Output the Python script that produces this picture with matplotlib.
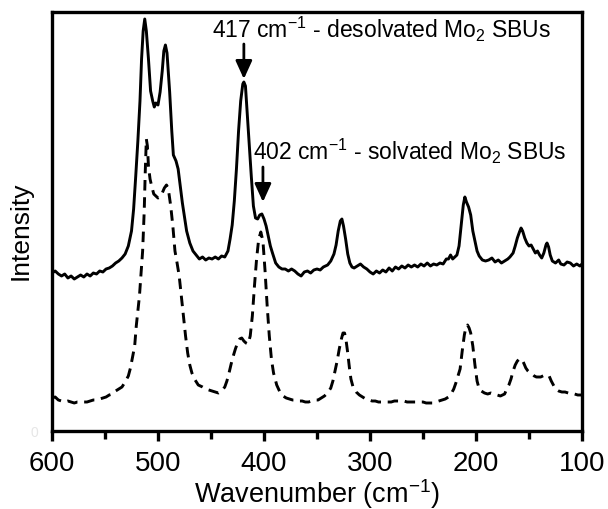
import matplotlib
matplotlib.use("Agg")
import matplotlib.pyplot as plt

plt.rcParams['font.family'] = ['Liberation Sans', 'DejaVu Sans']
plt.rcParams['mathtext.fontset'] = 'custom'
plt.rcParams['mathtext.rm'] = 'Liberation Sans'
plt.rcParams['mathtext.it'] = 'Liberation Sans:italic'
plt.rcParams['mathtext.default'] = 'regular'

# ---- data ----
desolv_wn = [600, 597, 594, 591, 588, 585, 582, 579, 576, 573, 570, 567, 564, 561, 558, 555, 552, 549,
             546, 543, 540, 537, 534, 531, 528, 525, 523, 521, 519, 517, 515.5, 514, 512.5, 511, 509,
             507, 505, 503.5, 502, 500, 498, 496, 494.5, 493, 491.5, 489, 487, 485.5, 483, 481, 479,
             477, 475, 473, 470, 467, 464, 461, 458, 455, 452, 449, 446, 443, 440, 437, 434, 432, 430,
             428, 426, 424, 422, 420, 419, 417.5, 416, 414, 412, 410, 408, 406, 404, 402, 400, 398, 396,
             394, 392, 389, 386, 383, 380, 377, 374, 371, 368, 365, 362, 359, 356, 353, 350, 347, 344,
             340, 337, 334, 332, 330, 328, 326.5, 325, 323, 321, 319, 317, 315, 312, 309, 306, 303, 300,
             297, 294, 291, 288, 285, 282, 279, 276, 273, 270, 267, 264, 261, 258, 255, 252, 249, 246,
             243, 240, 237, 234, 231, 228, 226, 224, 222, 220, 218, 216, 214, 212, 210.5, 209, 207, 205,
             203, 201, 199, 197, 194, 191, 188, 185, 182, 179, 176, 173, 170, 168, 165, 163, 161, 159,
             157.5, 156, 154, 152, 150, 148, 146, 144, 142, 140, 138, 136, 134, 133, 131.5, 130, 128,
             125, 122, 120, 117, 114, 111, 108, 105, 102, 100]
desolv_int = [158, 160, 157, 155, 157, 153, 155, 152, 154, 156, 154, 157, 155, 158, 157, 160, 159, 162,
              163, 165, 168, 170, 173, 177, 185, 200, 222, 255, 290, 330, 372, 400, 412, 400, 372,
              340, 330, 324, 328, 326, 339, 360, 380, 386, 378, 339, 300, 276, 270, 262, 245,
              228, 214, 200, 188, 180, 176, 172, 174, 171, 173, 172, 174, 172, 175, 174, 180, 192, 206,
              230, 262, 300, 330, 347, 349, 345, 320, 285, 255, 225, 213, 212, 216, 217, 212, 205, 195,
              185, 178, 168, 164, 162, 162, 160, 162, 160, 157, 155, 159, 160, 158, 161, 162, 161, 164,
              166, 170, 177, 186, 200, 210, 212, 205, 192, 177, 168, 164, 163, 165, 167, 164, 162, 159,
              157, 160, 158, 161, 159, 163, 160, 164, 162, 165, 163, 166, 164, 166, 164, 167, 165, 168,
              165, 167, 166, 168, 167, 172, 172, 176, 172, 174, 176, 185, 205, 226, 234, 229, 224, 216,
              200, 190, 180, 175, 171, 170, 171, 173, 169, 171, 168, 170, 172, 174, 178, 185, 193, 199,
              203, 200, 193, 188, 185, 186, 182, 178, 180, 176, 173, 178, 186, 188, 184, 176, 170,
              168, 171, 167, 166, 169, 168, 165, 167, 165, 167]

solv_wn = [600, 597, 594, 591, 588, 585, 582, 579, 576, 573, 570, 567, 564, 561, 558, 555, 552, 549,
           546, 543, 540, 537, 534, 531, 528, 526, 524, 522, 520.5, 519, 517.5, 516, 514.5, 513, 512,
           511, 510, 509, 507.5, 506, 504, 502, 500, 498, 496, 494, 492, 491, 490, 488, 486, 484, 482,
           480, 478, 476, 474, 472, 470, 468, 465, 462, 458, 455, 452, 449, 446, 443, 440, 437, 435,
           433, 431, 429, 427, 425, 423, 421, 419, 417, 415, 413, 411, 409, 407, 405, 403, 401, 399,
           397, 395, 393, 391, 388, 385, 382, 379, 376, 373, 370, 367, 364, 361, 358, 355, 352, 349,
           346, 343, 340, 337, 335, 333, 331, 329, 327, 325.5, 324, 322.5, 321, 319.5, 318, 316, 313,
           310, 307, 304, 301, 298, 295, 292, 289, 286, 283, 280, 277, 274, 271, 268, 265, 262, 259,
           256, 253, 250, 247, 244, 241, 238, 235, 232, 229, 226, 223, 221, 219, 217, 215, 213, 211,
           209.5, 208, 206.5, 205, 203, 201, 199, 197, 195, 192, 189, 186, 183, 180, 177, 175, 173,
           171, 169, 167, 165, 163, 161, 159, 157, 155, 153, 151, 149, 147, 145, 143, 141, 139, 137,
           135, 133, 131, 129, 127, 125, 122, 119, 116, 113, 110, 107, 104, 101, 100]
solv_int = [33, 34, 31, 30, 29, 30, 29, 28, 29, 29, 29, 29, 30, 31, 31, 32, 33, 34,
            36, 37, 40, 42, 44, 49, 55, 63, 74, 85, 105, 120, 135, 158, 180, 220, 260,
            292, 285, 265, 252, 245, 237, 235, 233, 234, 238, 243, 246, 244, 240, 225, 205, 180, 168,
            155, 135, 115, 95, 78, 66, 58, 51, 46, 44, 42, 41, 40, 39, 38, 40, 44, 50,
            58, 67, 75, 82, 88, 92, 93, 90, 88, 87, 95, 115, 145, 172, 192, 199, 190, 160,
            125, 95, 72, 58, 46, 39, 35, 33, 32, 31, 31, 30, 30, 29, 29, 30, 31, 31,
            33, 35, 38, 43, 50, 60, 70, 82, 92, 98, 98, 90, 78, 64, 52, 44, 39,
            36, 34, 32, 31, 30, 30, 29, 29, 29, 29, 29, 30, 30, 30, 30, 29, 29, 29,
            29, 29, 29, 28, 28, 28, 29, 30, 31, 32, 34, 38, 42, 48, 55, 62, 80, 96,
            104, 106, 103, 98, 85, 66, 50, 42, 40, 38, 37, 38, 37, 36, 35, 36, 37,
            42, 46, 52, 60, 66, 70, 72, 72, 68, 63, 60, 58, 57, 55, 54, 54, 54, 55,
            56, 56, 55, 50, 46, 42, 40, 39, 39, 38, 38, 37, 36, 36, 36]

x_major = [600, 500, 400, 300, 200, 100]
x_minor = [550, 450, 350, 250, 150]

fig = plt.figure(figsize=(6.08, 5.10), dpi=100)
ax = fig.add_axes([52 / 608, (510 - 432) / 510, 530 / 608, 419 / 510])

ax.plot(desolv_wn, desolv_int, color='black', lw=2.1, solid_joinstyle='round')
ax.plot(solv_wn, solv_int, color='black', lw=2.1, linestyle=(0, (3.6, 2.3)))

ax.set_xlim(600, 100)
ax.set_ylim(0, 419)

ax.set_xticks(x_major)
ax.set_xticklabels([str(v) for v in x_major])
ax.set_xticks(x_minor, minor=True)
ax.tick_params(axis='x', which='major', direction='out', length=7, width=2.4, labelsize=20, pad=7)
ax.tick_params(axis='x', which='minor', direction='out', length=5.5, width=2.4)
ax.set_yticks([0])
ax.set_yticklabels(['0'], color='#e6e6e6', fontsize=10)
ax.tick_params(axis='y', length=0, pad=10)

for s in ax.spines.values():
    s.set_linewidth(2.4)

ax.set_xlabel(r'Wavenumber (cm$^{-1}$)', fontsize=19.5, labelpad=0)
ax.set_ylabel('Intensity', fontsize=19)
ax.yaxis.set_label_coords(-0.036, 0.48)

arrow = dict(arrowstyle='-|>,head_length=0.55,head_width=0.25', lw=2, color='black',
             mutation_scale=20, shrinkA=0, shrinkB=0)
ax.annotate('', xy=(419, 352), xytext=(419, 387), arrowprops=arrow)
ax.annotate('', xy=(401, 229), xytext=(401, 264), arrowprops=arrow)

ax.text(449, 394, r'417 cm$^{-1}$ - desolvated Mo$_{2}$ SBUs', fontsize=16.5, va='baseline', ha='left')
ax.text(410, 272, r'402 cm$^{-1}$ - solvated Mo$_{2}$ SBUs', fontsize=16.5, va='baseline', ha='left')

fig.savefig('out.png', dpi=100)
